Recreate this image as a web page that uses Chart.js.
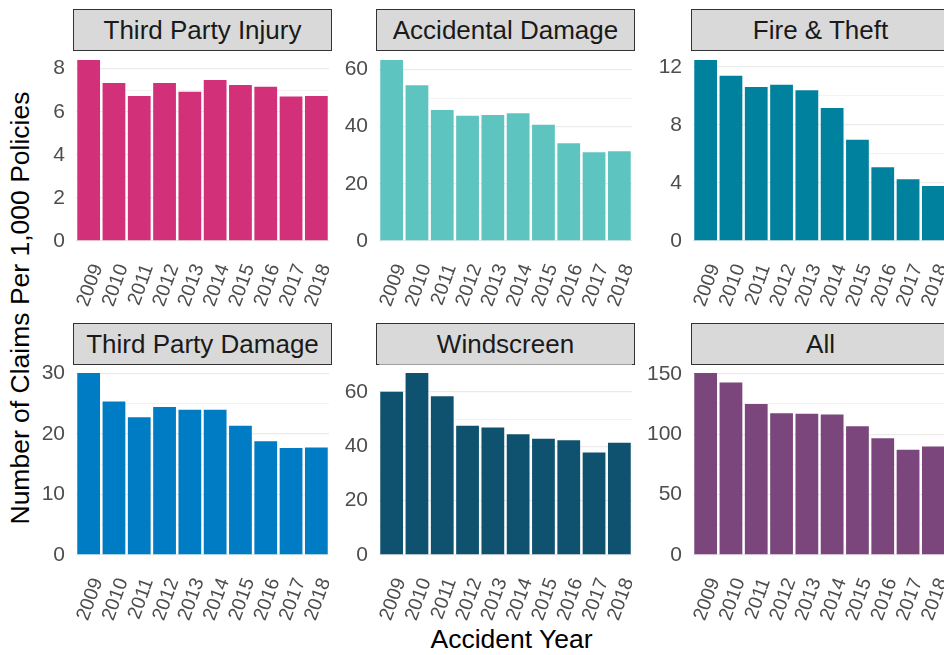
<!DOCTYPE html>
<html>
<head>
<meta charset="utf-8">
<script src="https://cdn.jsdelivr.net/npm/chart.js@4.4.1/dist/chart.umd.min.js"></script>
<style>
  body { margin: 0; background: #fff; font-family: "Liberation Sans", Arial, sans-serif; }
  #page { position: relative; width: 944px; height: 655px; overflow: hidden; background: #fff; }
  .strip { position: absolute; box-sizing: border-box; height: 42px; background: #d9d9d9; border: 1px solid #333;
           color: #1a1a1a; font-size: 26px; line-height: 40px; text-align: center; white-space: nowrap; overflow: hidden; }
  .box { position: absolute; }
  .title { position: absolute; font-size: 26.5px; line-height: 26px; color: #000; white-space: nowrap; }
</style>
</head>
<body>
<div id="page">
  <div class="title" style="left:19.5px; top:307.5px; transform: translate(-50%,-50%) rotate(-90deg)">Number of Claims Per 1,000 Policies</div>
  <div class="title" style="left:511.5px; top:639px; transform: translate(-50%,-50%)">Accident Year</div>
</div>
<script>
const years = ['2009', '2010', '2011', '2012', '2013', '2014', '2015', '2016', '2017', '2018']

// claims per 1,000 policies
const thirdPartyInjury = [8.40, 7.33, 6.73, 7.33, 6.93, 7.47, 7.24, 7.16, 6.71, 6.73]
const accidentalDamage = [63.3, 54.5, 45.8, 43.8, 44.1, 44.7, 40.7, 34.2, 31.0, 31.4]
const fireTheft = [12.48, 11.40, 10.62, 10.78, 10.39, 9.17, 6.99, 5.08, 4.25, 3.79]
const thirdPartyDamage = [30.1, 25.4, 22.8, 24.5, 24.05, 24.05, 21.4, 18.8, 17.7, 17.8]
const windscreen = [60.0, 66.9, 58.4, 47.5, 46.9, 44.4, 42.7, 42.2, 37.7, 41.3]
const allCovers = [150.6, 142.9, 125.0, 117.3, 117.0, 116.2, 106.5, 96.6, 87.0, 89.7]

// y tick labels per panel
const tpiTicks = [0, 2, 4, 6, 8]
const adTicks = [0, 20, 40, 60]
const ftTicks = [0, 4, 8, 12]
const tpdTicks = [0, 10, 20, 30]
const wsTicks = [0, 20, 40, 60]
const allTicks = [0, 50, 100, 150]

const panels = [
  { title: 'Third Party Injury', data: thirdPartyInjury, ticks: tpiTicks, color: '#d2317a', col: 0, row: 0 },
  { title: 'Accidental Damage', data: accidentalDamage, ticks: adTicks, color: '#5ec4c0', col: 1, row: 0 },
  { title: 'Fire & Theft', data: fireTheft, ticks: ftTicks, color: '#00829f', col: 2, row: 0 },
  { title: 'Third Party Damage', data: thirdPartyDamage, ticks: tpdTicks, color: '#007cc4', col: 0, row: 1 },
  { title: 'Windscreen', data: windscreen, ticks: wsTicks, color: '#0e526f', col: 1, row: 1 },
  { title: 'All', data: allCovers, ticks: allTicks, color: '#7b467b', col: 2, row: 1 }
]

// facet geometry (px)
const stripLeft = [73, 376, 691]
const stripW = 259
const chartLeft = [76, 379, 693]
const chartW = 253
const stripTop = [9, 323]
const panelTop = [51, 364]
const panelH = [199, 200]
const yAxisW = 50
const xAxisH = 62
const padTop = 12

const FONT = '"Liberation Sans", Arial, sans-serif'
Chart.defaults.font.family = FONT

const page = document.getElementById('page')

function makePanel(p) {
  const strip = document.createElement('div')
  strip.className = 'strip'
  strip.style.left = stripLeft[p.col] + 'px'
  strip.style.top = stripTop[p.row] + 'px'
  strip.style.width = stripW + 'px'
  strip.textContent = p.title
  page.appendChild(strip)

  const box = document.createElement('div')
  box.className = 'box'
  box.style.left = (chartLeft[p.col] - yAxisW) + 'px'
  box.style.top = (panelTop[p.row] - padTop) + 'px'
  const canvas = document.createElement('canvas')
  canvas.width = yAxisW + chartW
  canvas.height = padTop + panelH[p.row] + xAxisH
  box.appendChild(canvas)
  page.appendChild(box)

  const top = Math.max(...p.data)

  new Chart(canvas, {
    type: 'bar',
    data: {
      labels: years,
      datasets: [{
        data: p.data,
        backgroundColor: p.color,
        borderWidth: 0,
        barPercentage: 0.9,
        categoryPercentage: 1
      }]
    },
    options: {
      responsive: false,
      animation: false,
      devicePixelRatio: 1,
      layout: { padding: { top: padTop, left: 0, right: 0, bottom: 0 } },
      plugins: { legend: { display: false }, tooltip: { enabled: false } },
      scales: {
        x: {
          border: { display: false },
          grid: { display: false, drawTicks: false },
          ticks: {
            autoSkip: false, minRotation: 70, maxRotation: 70, padding: 11, labelOffset: 9,
            color: '#4d4d4d', font: { size: 19.5 }
          },
          afterFit: function (scale) {
            scale.height = xAxisH
            scale.paddingLeft = 0
            scale.paddingRight = 0
          }
        },
        y: {
          min: -0.05 * top,
          max: 1.05 * top,
          border: { display: false },
          grid: {
            drawTicks: false,
            color: '#ebebeb',
            lineWidth: ctx => (ctx.tick && ctx.tick.minor) ? 0.6 : 1.2
          },
          ticks: {
            autoSkip: false, padding: 11, color: '#4d4d4d', font: { size: 21 },
            callback: (v, i, t) => t[i].minor ? '' : String(v)
          },
          afterBuildTicks: function (scale) {
            // major ticks from the list, minor lines half way between
            const step = p.ticks[1] - p.ticks[0]
            const list = []
            for (let v = 0; v <= scale.max + 1e-9; v += step / 2) {
              list.push({ value: v, minor: !p.ticks.includes(v) })
            }
            scale.ticks = list
          },
          afterFit: function (scale) {
            scale.width = yAxisW
            scale.paddingTop = 0
            scale.paddingBottom = 0
          }
        }
      }
    }
  })
}

panels.forEach(makePanel)
</script>
</body>
</html>
